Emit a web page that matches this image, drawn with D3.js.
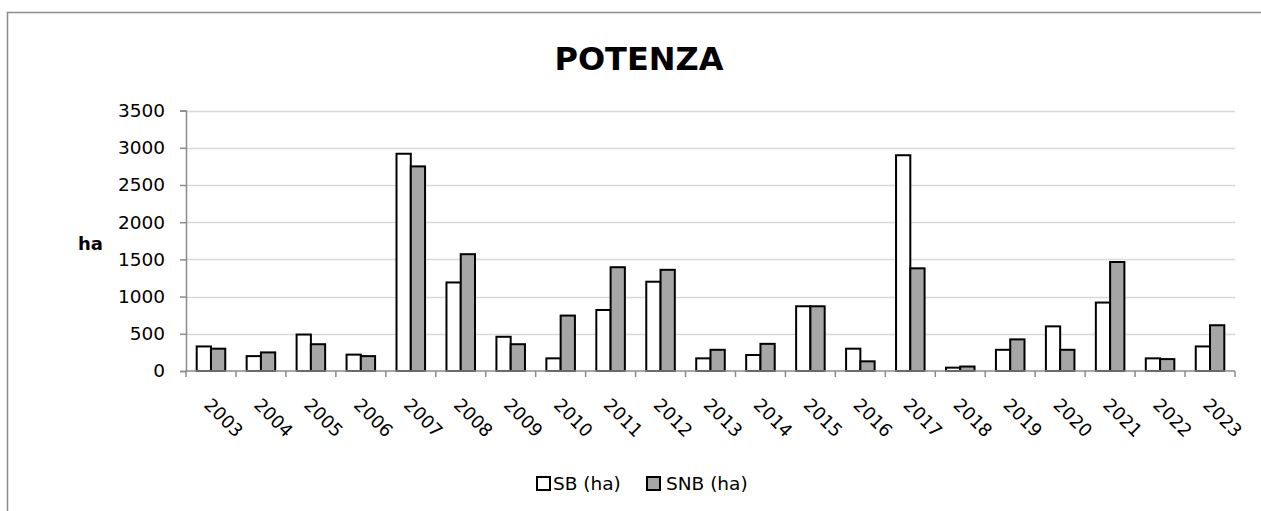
<!DOCTYPE html>
<html>
<head>
<meta charset="utf-8">
<script src="https://cdn.jsdelivr.net/npm/d3@7"></script>
<style>
  html, body { margin: 0; padding: 0; background: #fff; }
  svg { display: block; }
  text { font-family: "DejaVu Sans", sans-serif; fill: #000; }
</style>
</head>
<body>
<svg id="chart" width="1261" height="511"></svg>
<script>
// ---- Data ----
const years = ["2003","2004","2005","2006","2007","2008","2009","2010","2011","2012","2013","2014","2015","2016","2017","2018","2019","2020","2021","2022","2023"];
const seriesNames = ["SB (ha)", "SNB (ha)"];
const sbValues  = [330, 200, 490, 220, 2920, 1190, 460, 170, 820, 1200, 170, 215, 870, 300, 2900, 45, 285, 600, 920, 170, 330];
const snbValues = [300, 250, 360, 200, 2750, 1570, 360, 745, 1395, 1360, 285, 365, 870, 130, 1380, 60, 425, 285, 1465, 160, 615];
const yTicks = [0, 500, 1000, 1500, 2000, 2500, 3000, 3500];
const titleText = "POTENZA";
const yLabel = "ha";

// ---- Layout ----
const svg = d3.select("#chart");
const plot = { left: 186, right: 1235, top: 110.6, bottom: 371 };
const colors = { "SB (ha)": "#ffffff", "SNB (ha)": "#a6a6a6" };

// outer frame
svg.append("rect")
  .attr("x", 7.5).attr("y", 12.5)
  .attr("width", 1400).attr("height", 700)
  .attr("fill", "none").attr("stroke", "#8c8c8c").attr("stroke-width", 1.5);

const x0 = d3.scaleBand().domain(years).range([plot.left, plot.right])
  .paddingInner(0.4286).paddingOuter(0.2143);
const x1 = d3.scaleBand().domain(seriesNames).range([0, x0.bandwidth()]).padding(0);
const y = d3.scaleLinear().domain([0, 3500]).range([plot.bottom, plot.top]);

// gridlines
svg.append("g").selectAll("line").data(yTicks.filter(d => d > 0)).join("line")
  .attr("x1", plot.left).attr("x2", plot.right)
  .attr("y1", d => Math.round(y(d)) + 0.5).attr("y2", d => Math.round(y(d)) + 0.5)
  .attr("stroke", "#d9d9d9").attr("stroke-width", 1.5);

// y axis
const yAxis = svg.append("g").attr("transform", `translate(${plot.left},0)`)
  .call(d3.axisLeft(y).tickValues(yTicks).tickSize(6).tickPadding(15).tickFormat(d3.format("d")));
yAxis.select(".domain").attr("stroke", "#8c8c8c").attr("stroke-width", 1.5);
yAxis.selectAll(".tick line").attr("stroke", "#8c8c8c").attr("stroke-width", 1.5);
yAxis.selectAll(".tick text").style("font-family", "DejaVu Sans").style("font-size", "18.5px").attr("fill", "#222");

// bars
const data = years.map((yr, i) => ({ year: yr, vals: [
  { key: seriesNames[0], v: sbValues[i] },
  { key: seriesNames[1], v: snbValues[i] }
]}));
svg.append("g").selectAll("g").data(data).join("g")
  .attr("transform", d => `translate(${x0(d.year)},0)`)
  .selectAll("rect").data(d => d.vals).join("rect")
  .attr("x", d => x1(d.key))
  .attr("y", d => y(d.v))
  .attr("width", x1.bandwidth())
  .attr("height", d => y(0) - y(d.v))
  .attr("fill", d => colors[d.key])
  .attr("stroke", "#000").attr("stroke-width", 2);

// x axis (line + ticks between categories)
const step = x0.step();
const xAxisG = svg.append("g");
xAxisG.append("line")
  .attr("x1", plot.left).attr("x2", plot.right)
  .attr("y1", plot.bottom).attr("y2", plot.bottom)
  .attr("stroke", "#8c8c8c").attr("stroke-width", 1.5);
xAxisG.selectAll("line.tk").data(d3.range(years.length + 1)).join("line")
  .attr("class", "tk")
  .attr("x1", i => plot.left + i * step).attr("x2", i => plot.left + i * step)
  .attr("y1", plot.bottom).attr("y2", plot.bottom + 6)
  .attr("stroke", "#8c8c8c").attr("stroke-width", 1.5);
xAxisG.selectAll("text").data(years).join("text")
  .attr("transform", d => `translate(${x0(d) + x0.bandwidth() / 2 - 8},406) rotate(45)`)
  .attr("text-anchor", "start")
  .style("font-size", "18px")
  .attr("fill", "#222")
  .text(d => d);

// title
svg.append("text")
  .attr("x", 639).attr("y", 70)
  .attr("text-anchor", "middle")
  .style("font-size", "32px").style("font-weight", "bold")
  .text(titleText);

// y label
svg.append("text")
  .attr("x", 78).attr("y", 250)
  .style("font-size", "18px").style("font-weight", "bold")
  .text(yLabel);

// legend
const legendItems = [
  { name: seriesNames[0], bx: 537, tx: 553 },
  { name: seriesNames[1], bx: 647, tx: 666 }
];
const lg = svg.append("g");
lg.selectAll("rect").data(legendItems).join("rect")
  .attr("x", d => d.bx).attr("y", 477)
  .attr("width", 13).attr("height", 13)
  .attr("fill", d => colors[d.name]).attr("stroke", "#000").attr("stroke-width", 2);
lg.selectAll("text").data(legendItems).join("text")
  .attr("x", d => d.tx).attr("y", 490)
  .style("font-size", "18.5px")
  .attr("fill", "#222")
  .text(d => d.name);
</script>
</body>
</html>
